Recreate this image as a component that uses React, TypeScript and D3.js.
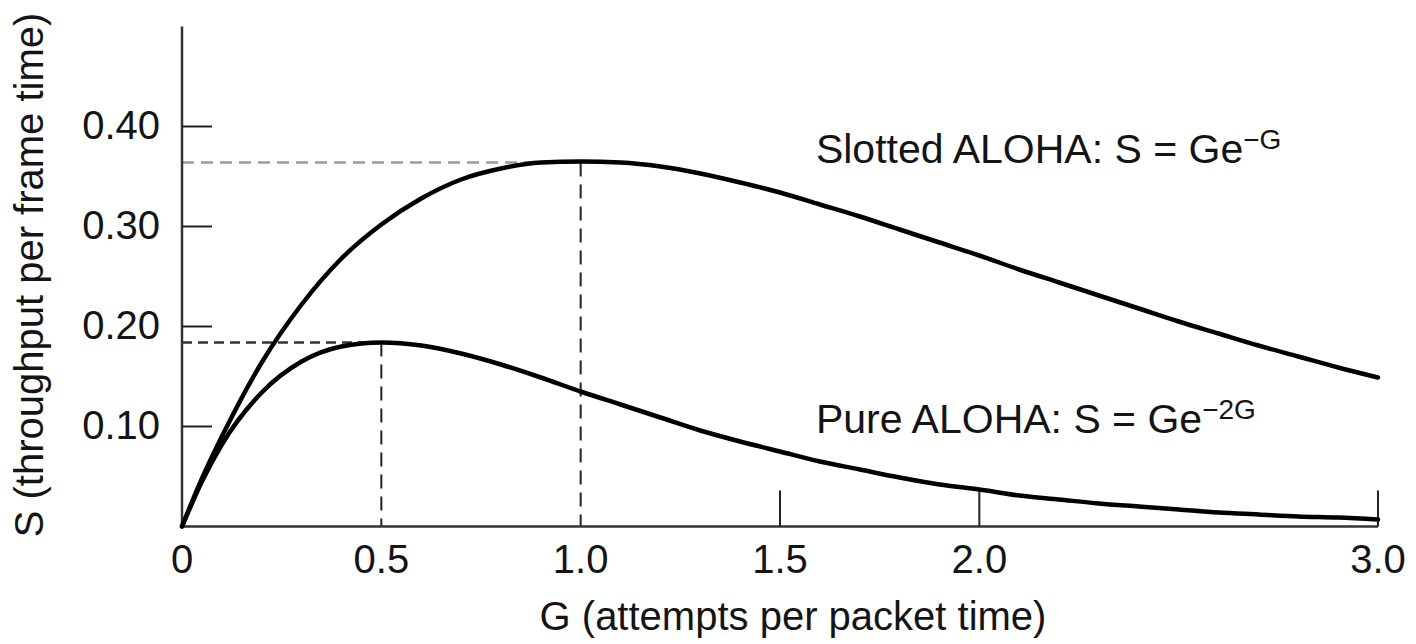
import React from "react";
import * as d3 from "d3";

// G values (attempts per packet time) sampled along both curves
const gValues = [
  0, 0.05, 0.1, 0.2, 0.3, 0.4, 0.5, 0.6, 0.7, 0.8, 0.9, 1.0, 1.1, 1.2, 1.3,
  1.4, 1.5, 1.6, 1.7, 1.8, 1.9, 2.0, 2.1, 2.2, 2.3, 2.4, 2.5, 2.6, 2.7, 2.8,
  2.9, 3.0,
];
// Slotted ALOHA throughput
const slotted = [
  0, 0.048, 0.09, 0.164, 0.222, 0.268, 0.302, 0.328, 0.347, 0.358, 0.364,
  0.365, 0.364, 0.36, 0.353, 0.344, 0.334, 0.322, 0.31, 0.297, 0.284, 0.271,
  0.257, 0.244, 0.231, 0.218, 0.205, 0.193, 0.181, 0.17, 0.159, 0.149,
];
// Pure ALOHA throughput
const pure = [
  0, 0.045, 0.082, 0.134, 0.165, 0.18, 0.184, 0.181, 0.173, 0.162, 0.149,
  0.135, 0.122, 0.109, 0.096, 0.085, 0.075, 0.065, 0.057, 0.049, 0.042, 0.037,
  0.031, 0.027, 0.023, 0.02, 0.017, 0.014, 0.012, 0.01, 0.009, 0.007,
];

const yTicks = [0.1, 0.2, 0.3, 0.4];
const yTickLabels = ["0.10", "0.20", "0.30", "0.40"];
const xTicks = [0, 0.5, 1.0, 1.5, 2.0, 3.0];
const xTickLabels = ["0", "0.5", "1.0", "1.5", "2.0", "3.0"];
const xTickMarks = [1.5, 2.0, 3.0];

// peaks marked with dashed guides
const slottedPeak = { g: 1.0, s: 0.364 };
const purePeak = { g: 0.5, s: 0.184 };

const width = 1416;
const height = 644;
const font = "'Liberation Sans', Arial, Helvetica, sans-serif";
const ink = "#141414";

export default function App() {
  const x = d3.scaleLinear().domain([0, 3]).range([182, 1378]);
  const y = d3.scaleLinear().domain([0, 0.5]).range([526.5, 26.5]);

  const line = d3
    .line<number>()
    .x((_, i) => x(gValues[i]))
    .y((d) => y(d))
    .curve(d3.curveMonotoneX);

  return (
    <svg
      width={width}
      height={height}
      style={{ position: "absolute", left: 0, top: 0, background: "#fff" }}
      fontFamily={font}
    >
      {/* dashed guides to the peaks */}
      <line
        x1={x(0)}
        x2={x(slottedPeak.g)}
        y1={y(slottedPeak.s)}
        y2={y(slottedPeak.s)}
        stroke="#9a9a9a"
        strokeWidth={2.5}
        strokeDasharray="12,7"
      />
      <line
        x1={x(slottedPeak.g)}
        x2={x(slottedPeak.g)}
        y1={y(slottedPeak.s)}
        y2={y(0)}
        stroke="#222"
        strokeWidth={2}
        strokeDasharray="14,8"
      />
      <line
        x1={x(0)}
        x2={x(purePeak.g)}
        y1={y(purePeak.s)}
        y2={y(purePeak.s)}
        stroke="#333"
        strokeWidth={2.5}
        strokeDasharray="10,6"
      />
      <line
        x1={x(purePeak.g)}
        x2={x(purePeak.g)}
        y1={y(purePeak.s)}
        y2={y(0)}
        stroke="#222"
        strokeWidth={2}
        strokeDasharray="14,8"
      />

      {/* axes */}
      <line x1={x(0)} x2={x(0)} y1={y(0.5)} y2={y(0)} stroke="#333" strokeWidth={2.5} />
      <line x1={x(0)} x2={x(3)} y1={y(0)} y2={y(0)} stroke="#333" strokeWidth={2.5} />
      {yTicks.map((t) => (
        <line key={t} x1={x(0)} x2={x(0) + 30} y1={y(t)} y2={y(t)} stroke="#222" strokeWidth={2} />
      ))}
      {xTickMarks.map((t) => (
        <line key={t} x1={x(t)} x2={x(t)} y1={y(0)} y2={y(0) - 36} stroke="#222" strokeWidth={2} />
      ))}

      {/* curves */}
      <path d={line(slotted) ?? ""} fill="none" stroke="#000" strokeWidth={4.5} strokeLinecap="round" />
      <path d={line(pure) ?? ""} fill="none" stroke="#000" strokeWidth={4.5} strokeLinecap="round" />

      {/* tick labels */}
      {yTicks.map((t, i) => (
        <text key={t} x={x(0) - 22} y={y(t)} dy="0.3em" textAnchor="end" fontSize={40} fill={ink}>
          {yTickLabels[i]}
        </text>
      ))}
      {xTicks.map((t, i) => (
        <text key={t} x={x(t)} y={y(0) + 46.5} textAnchor="middle" fontSize={40} fill={ink}>
          {xTickLabels[i]}
        </text>
      ))}

      {/* axis titles */}
      <text x={793} y={630} textAnchor="middle" fontSize={40} fill={ink}>
        G (attempts per packet time)
      </text>
      <text
        transform="translate(43,275) rotate(-90)"
        textAnchor="middle"
        fontSize={40}
        fill={ink}
      >
        S (throughput per frame time)
      </text>

      {/* curve annotations */}
      <text x={x(1.59)} y={y(0.364)} fontSize={41} fill={ink}>
        Slotted ALOHA: S = Ge
        <tspan fontSize={28} dy={-14}>
          −G
        </tspan>
      </text>
      <text x={x(1.59)} y={y(0.094)} fontSize={41} fill={ink}>
        Pure ALOHA: S = Ge
        <tspan fontSize={28} dy={-14}>
          −2G
        </tspan>
      </text>
    </svg>
  );
}
